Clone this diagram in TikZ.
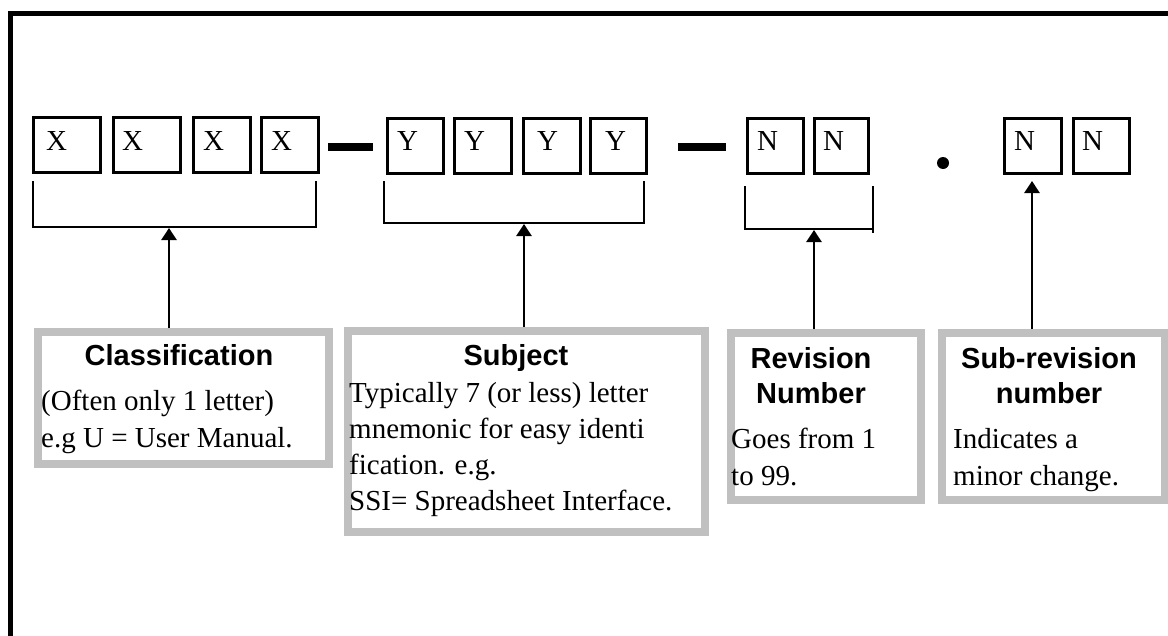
\documentclass[tikz,border=0pt]{standalone}
\usepackage{fontspec}
\setmainfont{Liberation Serif}
\newfontfamily\headfont{Liberation Sans}
\usetikzlibrary{arrows.meta}
\definecolor{boxgray}{HTML}{C0C0C0}
\begin{document}
\begin{tikzpicture}[x=1pt,y=-1pt,
  cell/.style={draw,line width=3pt,minimum height=55pt,inner sep=0pt,outer sep=0pt},
  letter/.style={font=\fontsize{29pt}{35pt}\selectfont,inner sep=0pt,anchor=base west},
  gbox/.style={draw=boxgray,line width=8pt,inner sep=0pt,outer sep=4pt,anchor=north west},
  body/.style={font=\fontsize{29pt}{35pt}\selectfont,inner sep=0pt,anchor=base west},
  head/.style={font=\headfont\bfseries\fontsize{29pt}{35pt}\selectfont,inner sep=0pt,anchor=base},
  brk/.style={line width=2.5pt},
  arr/.style={line width=2.5pt,-{Triangle[width=15pt,length=12pt]}},
  bar/.style={fill=black,draw=none,inner sep=0pt,outer sep=0pt}
]
\useasboundingbox (0,0) rectangle (1168,635);
\fill[white] (0,0) rectangle (1168,635);
\clip (0,0) rectangle (1168,635);
% outer frame (only top and left visible)
\coordinate (fr) at (10.5,13.5);
\draw[line width=5pt] (fr) ++(0,700) -- (fr) -- ++(1200,0);

% X cells
\node[cell,minimum width=67pt] (x1) at (67,145) {};
\node[cell,minimum width=67pt] (x2) at (147,145) {};
\node[cell,minimum width=57pt] (x3) at (222,145) {};
\node[cell,minimum width=57pt] (x4) at (290,145) {};
\node[letter] (lx1) at (46,150) {X};
\node[letter] (lx2) at (122,150) {X};
\node[letter] (lx3) at (203,150) {X};
\node[letter] (lx4) at (271,150) {X};
% dash 1
\node[bar,minimum width=45pt,minimum height=8pt] (d1) at (350.5,147) {};
% Y cells
\node[cell,minimum width=56pt] (y1) at (415.5,145.5) {};
\node[cell,minimum width=57pt] (y2) at (483,145.5) {};
\node[cell,minimum width=57pt] (y3) at (552,145.5) {};
\node[cell,minimum width=56pt] (y4) at (618.5,145.5) {};
\node[letter] (ly1) at (397,150) {Y};
\node[letter] (ly2) at (464,150) {Y};
\node[letter] (ly3) at (537,150) {Y};
\node[letter] (ly4) at (605,150) {Y};
% dash 2
\node[bar,minimum width=48pt,minimum height=8pt] (d2) at (702,147) {};
% N cells
\node[cell,minimum width=56pt] (n1) at (775.5,145.5) {};
\node[cell,minimum width=54pt] (n2) at (841.5,145.5) {};
\node[letter] (ln1) at (757,150) {N};
\node[letter] (ln2) at (823,150) {N};
% dot
\node[circle,fill=black,inner sep=0pt,minimum size=12pt] (dot) at (943,163) {};
\node[cell,minimum width=57pt] (n3) at (1033,145.5) {};
\node[cell,minimum width=56pt] (n4) at (1101.5,145.5) {};
\node[letter] (ln3) at (1014,150) {N};
\node[letter] (ln4) at (1082,150) {N};

% brackets
\coordinate (b1l) at (33,181); \coordinate (b1r) at (316,181); \coordinate (b1b) at (0,227);
\draw[brk] (b1l) -- (b1l |- b1b) -- (b1r |- b1b) -- (b1r);
\coordinate (b2l) at (384,181); \coordinate (b2r) at (644,181); \coordinate (b2b) at (0,223);
\draw[brk] (b2l) -- (b2l |- b2b) -- (b2r |- b2b) -- (b2r);
\coordinate (b3l) at (745,186); \coordinate (b3r) at (873,186); \coordinate (b3b) at (0,229);
\coordinate (b3e) at (873,233);
\draw[brk] (b3l) -- (b3l |- b3b) -- (b3r |- b3b);
\draw[brk] (b3r) -- (b3e);

% description boxes
\node[gbox,minimum width=291pt,minimum height=132pt] (cls) at (34,328) {};
\node[gbox,minimum width=357pt,minimum height=201pt] (sub) at (344,327) {};
\node[gbox,minimum width=190pt,minimum height=167pt] (rev) at (727,329) {};
\node[gbox,minimum width=223pt,minimum height=167pt] (srev) at (938,329) {};

% arrows
\coordinate (t1) at (169,228);
\draw[arr] (t1 |- cls.north) -- (t1);
\coordinate (t2) at (524,224);
\draw[arr] (t2 |- sub.north) -- (t2);
\coordinate (t3) at (814,230);
\draw[arr] (t3 |- rev.north) -- (t3);
\coordinate (t4) at (1032,181);
\draw[arr] (t4 |- srev.north) -- (t4);

% texts
\node[head] (hcls) at (179,365) {Classification};
\node[body] (c1) at (41,410) {(Often only 1 letter)};
\node[body] (c2) at (41,447) {e.g U = User Manual.};

\node[head] (hsub) at (516,365) {Subject};
\node[body] (s1) at (349,402) {Typically 7 (or less) letter};
\node[body] (s2) at (349,438) {mnemonic for easy identi};
\node[body] (s3) at (349,474) {fication. e.g.};
\node[body] (s4) at (349,510) {SSI= Spreadsheet Interface.};

\node[head] (hrev1) at (811,368) {Revision};
\node[head] (hrev2) at (811,403) {Number};
\node[body] (r1) at (731,448) {Goes from 1};
\node[body] (r2) at (731,485) {to 99.};

\node[head] (hsr1) at (1049,368) {Sub-revision};
\node[head] (hsr2) at (1049,403) {number};
\node[body] (sr1) at (953,448) {Indicates a};
\node[body] (sr2) at (953,485) {minor change.};
\end{tikzpicture}
\end{document}
